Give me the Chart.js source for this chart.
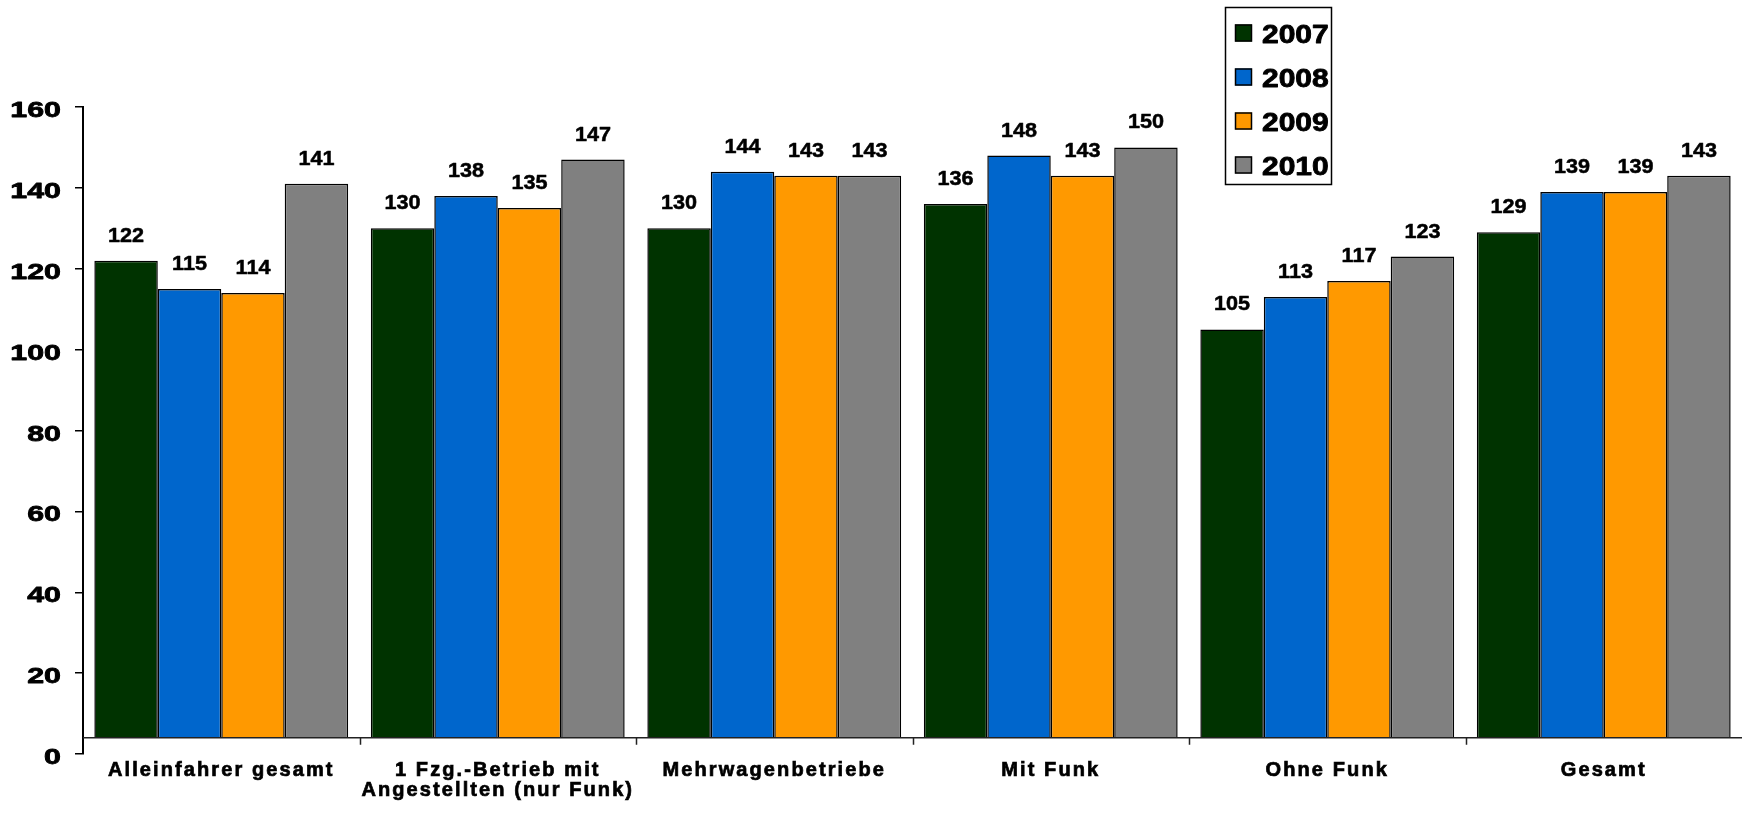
<!DOCTYPE html>
<html><head><meta charset="utf-8">
<script src="https://cdn.jsdelivr.net/npm/chart.js@4.4.0/dist/chart.umd.min.js"></script>
<style>html,body{margin:0;padding:0;background:#fff;} #wrap{width:1742px;height:814px;position:relative;}</style>
</head><body><div id="wrap"><canvas id="c" width="1742" height="814"></canvas></div>
<script>
const categories = [
  'Alleinfahrer gesamt',
  ['1 Fzg.-Betrieb mit', 'Angestellten (nur Funk)'],
  'Mehrwagenbetriebe',
  'Mit Funk',
  'Ohne Funk',
  'Gesamt'
];
const years = ['2007', '2008', '2009', '2010'];
const values2007 = [122, 130, 130, 136, 105, 129];
const values2008 = [115, 138, 144, 148, 113, 139];
const values2009 = [114, 135, 143, 143, 117, 139];
const values2010 = [141, 147, 143, 150, 123, 143];
const seriesValues = [values2007, values2008, values2009, values2010];
const colors = ['#003300', '#0066CC', '#FF9900', '#808080'];
const yMin = 0, yMax = 160, yStep = 20;
const axisCross = 4;

const FONT = '"Liberation Sans", Arial, Helvetica, sans-serif';

function stretchText(ctx, text, x, y, sx, align, sw) {
  ctx.save();
  ctx.translate(x, y);
  ctx.scale(sx, 1);
  ctx.textAlign = align;
  if (sw) {
    ctx.lineWidth = sw;
    ctx.strokeStyle = '#000';
    ctx.lineJoin = 'round';
    ctx.strokeText(text, 0, 0);
  }
  ctx.fillText(text, 0, 0);
  ctx.restore();
}

const customPlugin = {
  id: 'customDraw',
  afterLayout(chart) {
    const xs = chart.scales.x;
    if (xs && !xs._lsPatched) {
      const orig = xs.drawLabels.bind(xs);
      xs.drawLabels = function (area) {
        const c = this.ctx;
        c.save();
        c.letterSpacing = '2.1px';
        orig(area);
        c.restore();
      };
      xs._lsPatched = true;
    }
  },
  afterDatasetsDraw(chart) {
    const ctx = chart.ctx;
    const xs = chart.scales.x, ys = chart.scales.y;
    const area = chart.chartArea;
    // baseline at axis crossing
    const by = ys.getPixelForValue(axisCross);
    ctx.save();
    ctx.strokeStyle = '#222';
    ctx.lineWidth = 1.5;
    ctx.beginPath();
    ctx.moveTo(area.left, by);
    ctx.lineTo(area.right, by);
    for (let i = 1; i < categories.length; i++) {
      const bx = Math.round((xs.getPixelForValue(i - 1) + xs.getPixelForValue(i)) / 2) + 0.5;
      ctx.moveTo(bx, by);
      ctx.lineTo(bx, by + 7);
    }
    ctx.stroke();
    ctx.restore();

    // data labels
    ctx.save();
    ctx.fillStyle = '#000';
    ctx.font = 'bold 20px ' + FONT;
    ctx.textBaseline = 'alphabetic';
    chart.data.datasets.forEach((ds, di) => {
      const meta = chart.getDatasetMeta(di);
      meta.data.forEach((bar, i) => {
        stretchText(ctx, String(ds.data[i]), bar.x, bar.y - 19, 1.08, 'center', 0.5);
      });
    });
    ctx.restore();

    // y tick labels (stretched)
    ctx.save();
    ctx.fillStyle = '#000';
    ctx.font = 'bold 22px ' + FONT;
    ctx.textBaseline = 'alphabetic';
    ys.ticks.forEach(t => {
      const y = ys.getPixelForValue(t.value);
      stretchText(ctx, t.label, 61, y + 10, 1.38, 'right', 0.8);
    });
    ctx.restore();

    // legend
    ctx.save();
    ctx.strokeStyle = '#000';
    ctx.lineWidth = 1.5;
    ctx.fillStyle = '#fff';
    ctx.fillRect(1225, 7, 107, 178);
    ctx.strokeRect(1225.5, 7.5, 106, 177);
    ctx.font = 'bold 25px ' + FONT;
    ctx.textBaseline = 'alphabetic';
    years.forEach((yr, i) => {
      const cy = 32.5 + i * 44;
      ctx.fillStyle = colors[i];
      ctx.fillRect(1235, cy - 8, 17, 17);
      ctx.strokeStyle = '#000';
      ctx.lineWidth = 1.5;
      ctx.strokeRect(1235.5, cy - 7.5, 16, 16);
      ctx.fillStyle = '#000';
      stretchText(ctx, yr, 1262, cy + 10, 1.2, 'left', 0.8);
    });
    ctx.restore();
  }
};

new Chart(document.getElementById('c'), {
  type: 'bar',
  data: {
    labels: categories,
    datasets: years.map((yr, i) => ({
      label: yr,
      data: seriesValues[i],
      backgroundColor: colors[i],
      borderColor: '#000',
      borderWidth: 1.5,
      base: axisCross,
      barPercentage: 1.0,
      categoryPercentage: 0.918
    }))
  },
  options: {
    responsive: false,
    animation: false,
    events: [],
    layout: { padding: { top: 107, left: 0, right: 0, bottom: 0 } },
    plugins: { legend: { display: false }, tooltip: { enabled: false } },
    scales: {
      x: {
        offset: true,
        grid: { display: false, drawTicks: false },
        border: { display: false },
        ticks: {
          color: '#000',
          textStrokeColor: '#000',
          textStrokeWidth: 0.7,
          font: { family: FONT, size: 20, weight: 'bold', lineHeight: 1.025 },
          padding: 6,
          maxRotation: 0,
          autoSkip: false
        },
        afterFit(s) { s.height = 60; }
      },
      y: {
        min: yMin,
        max: yMax,
        ticks: {
          stepSize: yStep,
          color: 'rgba(0,0,0,0)',
          font: { family: FONT, size: 22, weight: 'bold' }
        },
        grid: { drawOnChartArea: false, tickLength: 8, color: '#000', lineWidth: 1.5 },
        border: { display: true, color: '#000', width: 2 },
        afterFit(s) { s.width = 83; }
      }
    }
  },
  plugins: [customPlugin]
});
</script>
</body></html>
